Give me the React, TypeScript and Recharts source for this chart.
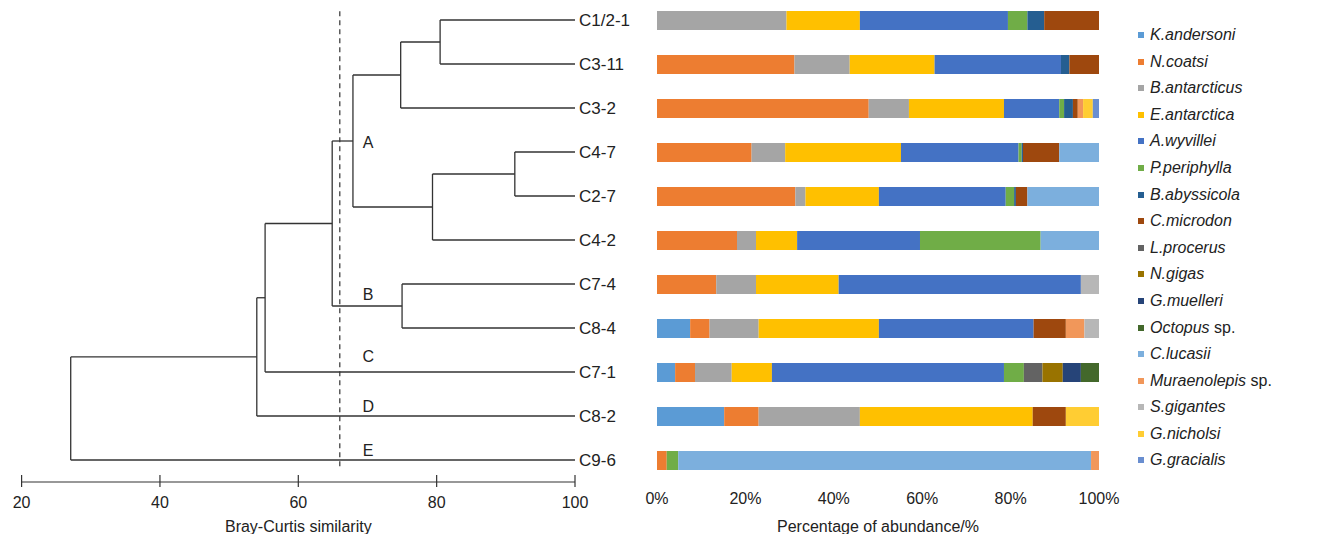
import React from 'react';
import {
  ScatterChart,
  Scatter,
  XAxis,
  YAxis,
  ReferenceLine,
  LabelList,
  BarChart,
  Bar,
} from 'recharts';

const FONT = '"Liberation Sans", Arial, sans-serif';
const INK = '#222';
const LINE = '#333';

// sites, top to bottom (dendrogram leaf order)
const sites = ['C1/2-1', 'C3-11', 'C3-2', 'C4-7', 'C2-7', 'C4-2', 'C7-4', 'C8-4', 'C7-1', 'C8-2', 'C9-6'];

// cluster merges: [childA, childB, Bray-Curtis similarity]; new nodes numbered from 11
const merges: [number, number, number][] = [
  [0, 1, 80.5],
  [11, 2, 74.8],
  [3, 4, 91.3],
  [13, 5, 79.4],
  [12, 14, 67.9],
  [6, 7, 75.0],
  [15, 16, 64.9],
  [17, 8, 55.2],
  [18, 9, 54.0],
  [19, 10, 27.1],
];

const cutoff = 66;
const simTicks = [20, 40, 60, 80, 100];

const clusterLabels = [
  { name: 'A', x: 70.1, y: 2.79 },
  { name: 'B', x: 70.1, y: 6.23 },
  { name: 'C', x: 70.1, y: 7.64 },
  { name: 'D', x: 70.1, y: 8.77 },
  { name: 'E', x: 70.1, y: 9.77 },
];

const species = [
  'K.andersoni', 'N.coatsi', 'B.antarcticus', 'E.antarctica', 'A.wyvillei', 'P.periphylla',
  'B.abyssicola', 'C.microdon', 'L.procerus', 'N.gigas', 'G.muelleri', 'Octopus sp.',
  'C.lucasii', 'Muraenolepis sp.', 'S.gigantes', 'G.nicholsi', 'G.gracialis',
];

const colors = [
  '#5B9BD5', '#ED7D31', '#A5A5A5', '#FFC000', '#4472C4', '#70AD47',
  '#255E91', '#9E480E', '#636363', '#997300', '#264478', '#43682B',
  '#7CAFDD', '#F1975A', '#B7B7B7', '#FFCD33', '#698ED0',
];

// percentage of abundance per site, in species order
const c12_1 = [0, 0, 29.3, 16.6, 33.5, 4.4, 3.8, 12.4, 0, 0, 0, 0, 0, 0, 0, 0, 0];
const c3_11 = [0, 31.1, 12.5, 19.2, 28.6, 0, 1.9, 6.7, 0, 0, 0, 0, 0, 0, 0, 0, 0];
const c3_2 = [0, 47.9, 9.1, 21.5, 12.5, 1.1, 2.0, 1.1, 0, 0, 0, 0, 0, 1.2, 0, 2.2, 1.4];
const c4_7 = [0, 21.4, 7.6, 26.2, 26.6, 0.7, 0.3, 8.2, 0, 0, 0, 0, 9.0, 0, 0, 0, 0];
const c2_7 = [0, 31.3, 2.3, 16.6, 28.7, 1.9, 0.4, 2.6, 0, 0, 0, 0, 16.2, 0, 0, 0, 0];
const c4_2 = [0, 18.1, 4.3, 9.3, 27.8, 27.3, 0, 0, 0, 0, 0, 0, 13.2, 0, 0, 0, 0];
const c7_4 = [0, 13.4, 9.0, 18.7, 54.8, 0, 0, 0, 0, 0, 0, 0, 0, 0, 4.1, 0, 0];
const c8_4 = [7.5, 4.4, 11.1, 27.2, 35.0, 0, 0, 7.3, 0, 0, 0, 0, 0, 4.2, 3.3, 0, 0];
const c7_1 = [4.1, 4.5, 8.3, 9.1, 52.5, 4.5, 0, 0, 4.2, 4.6, 4.1, 4.1, 0, 0, 0, 0, 0];
const c8_2 = [15.2, 7.8, 22.9, 39.1, 0, 0, 0, 7.5, 0, 0, 0, 0, 0, 0, 0, 7.5, 0];
const c9_6 = [0, 2.2, 0, 0, 0, 2.6, 0, 0, 0, 0, 0, 0, 93.4, 1.8, 0, 0, 0];

const siteValues = [c12_1, c3_11, c3_2, c4_7, c2_7, c4_2, c7_4, c8_4, c7_1, c8_2, c9_6];
const pctTicks = [0, 20, 40, 60, 80, 100];

const barData = sites.map((site, i) => {
  const row: Record<string, number | string> = { site };
  species.forEach((sp, j) => {
    row[sp] = siteValues[i][j];
  });
  return row;
});

// turn the merge list into elbow segments (x = similarity, y = leaf index)
type Pt = { x: number; y: number };
const buildSegments = () => {
  const pos: Pt[] = sites.map((_, i) => ({ x: 100, y: i }));
  const segs: [Pt, Pt][] = [];
  merges.forEach(([a, b, s]) => {
    const pa = pos[a];
    const pb = pos[b];
    segs.push([{ x: pa.x, y: pa.y }, { x: s, y: pa.y }]);
    segs.push([{ x: pb.x, y: pb.y }, { x: s, y: pb.y }]);
    segs.push([{ x: s, y: pa.y }, { x: s, y: pb.y }]);
    pos.push({ x: s, y: (pa.y + pb.y) / 2 });
  });
  return segs;
};
const segments = buildSegments();

const TICK_SIZE = 5;
const TICK_MARGIN = 8;

const SimTick = (props: any) => {
  const { x, y, payload } = props;
  const axisY = y - TICK_SIZE - TICK_MARGIN;
  return (
    <g>
      <line x1={x} x2={x} y1={axisY - 7} y2={axisY + 5} stroke={LINE} strokeWidth={1.2} />
      <text x={x} y={y} dy="0.8em" textAnchor="middle" fontSize={16} fill={INK} fontFamily={FONT}>
        {payload.value}
      </text>
    </g>
  );
};

const speciesLabel = (name: string) => {
  if (name.endsWith(' sp.')) {
    return (
      <>
        <i>{name.replace(' sp.', '')}</i> sp.
      </>
    );
  }
  return <i>{name}</i>;
};

const SpeciesLegend = () => (
  <div style={{ position: 'absolute', left: 1130, top: 13.7, fontFamily: FONT, fontSize: 16, color: INK }}>
    {species.map((sp, j) => (
      <div key={sp} style={{ display: 'flex', alignItems: 'center', height: 26.6, whiteSpace: 'nowrap' }}>
        <span style={{ width: 6, height: 6, background: colors[j], marginRight: 6, display: 'inline-block' }} />
        <span>{speciesLabel(sp)}</span>
      </div>
    ))}
  </div>
);

export default function App() {
  return (
    <div style={{ position: 'relative', width: 1302, height: 526, fontFamily: FONT, background: '#fff' }}>
      <div style={{ position: 'absolute', left: 0, top: -10 }}>
        <ScatterChart width={640} height={536} margin={{ top: 0, right: 0, bottom: 0, left: 13.6 }}>
          <XAxis
            type="number"
            dataKey="x"
            domain={[20, 100]}
            ticks={simTicks}
            allowDataOverflow
            axisLine={{ stroke: LINE, strokeWidth: 1.2 }}
            tickLine={false}
            tickSize={TICK_SIZE}
            tickMargin={TICK_MARGIN}
            tick={SimTick}
            height={52}
            label={{ value: 'Bray-Curtis similarity', position: 'insideBottom', offset: 2, fontSize: 16, fill: INK }}
          />
          <YAxis
            type="number"
            dataKey="y"
            orientation="right"
            reversed
            domain={[-0.5, 10.5]}
            ticks={sites.map((_, i) => i)}
            allowDataOverflow
            width={73}
            axisLine={false}
            tickLine={false}
            tickSize={0}
            tickMargin={4}
            tickFormatter={(v: number) => sites[v] ?? ''}
            tick={{ fontSize: 17, fill: INK }}
          />
          {segments.map((seg, i) => (
            <ReferenceLine key={i} segment={seg} stroke={LINE} strokeWidth={1.3} ifOverflow="visible" />
          ))}
          <ReferenceLine
            segment={[{ x: cutoff, y: -0.2 }, { x: cutoff, y: 10.2 }]}
            stroke={LINE}
            strokeWidth={1.2}
            strokeDasharray="5 4"
            ifOverflow="visible"
          />
          <Scatter data={clusterLabels} shape={() => <g />} isAnimationActive={false} legendType="none">
            <LabelList dataKey="name" position="center" fontSize={16} fill={INK} />
          </Scatter>
        </ScatterChart>
      </div>
      <div style={{ position: 'absolute', left: 622, top: -10 }}>
        <BarChart
          width={490}
          height={536}
          layout="vertical"
          data={barData}
          margin={{ top: 0, right: 21, bottom: 0, left: 27 }}
          barCategoryGap={0}
        >
          <YAxis type="category" dataKey="site" hide />
          <XAxis
            type="number"
            domain={[0, 100]}
            ticks={pctTicks}
            interval={0}
            tickFormatter={(v: number) => `${v}%`}
            axisLine={false}
            tickLine={false}
            tickMargin={5}
            height={52}
            tick={{ fontSize: 16, fill: INK }}
            label={{ value: 'Percentage of abundance/%', position: 'insideBottom', offset: 2, fontSize: 16, fill: INK }}
          />
          {species.map((sp, j) => (
            <Bar key={sp} dataKey={sp} stackId="a" fill={colors[j]} barSize={19} isAnimationActive={false} />
          ))}
        </BarChart>
      </div>
      <SpeciesLegend />
    </div>
  );
}
